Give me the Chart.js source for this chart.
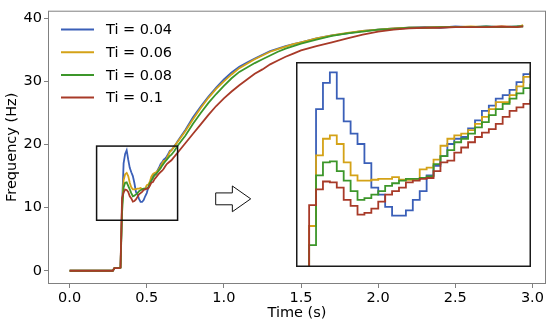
<!DOCTYPE html>
<html><head><meta charset="utf-8">
<script src="https://cdn.jsdelivr.net/npm/chart.js@4.4.1/dist/chart.umd.min.js"></script>
<style>
html,body{margin:0;padding:0;background:#fff;}
#wrap{position:relative;width:550px;height:324px;overflow:hidden;}
#main{position:absolute;left:0;top:0;}
#inset{position:absolute;left:296px;top:62px;}
</style></head><body>
<div id="wrap"><canvas id="main" width="550" height="324"></canvas><canvas id="inset" width="235" height="205"></canvas></div>
<script>
// ---- data ----
const time = [0, 0.28, 0.29, 0.30, 0.31, 0.32, 0.33,
  0.34, 0.35, 0.36, 0.37, 0.38, 0.39, 0.40, 0.41, 0.42, 0.43, 0.44, 0.45, 0.46, 0.47, 0.48, 0.49,
  0.50, 0.51, 0.52, 0.53, 0.54, 0.55, 0.56, 0.57, 0.58, 0.59, 0.60, 0.61, 0.62, 0.63, 0.64, 0.65, 0.66,
  0.67, 0.68, 0.69, 0.70,
  0.75, 0.80, 0.85, 0.90, 0.95, 1.00, 1.05, 1.10, 1.15, 1.20, 1.25, 1.30, 1.35, 1.40, 1.45, 1.50,
  1.6, 1.7, 1.8, 1.9, 2.0, 2.1, 2.2, 2.3, 2.4, 2.5, 2.6, 2.7, 2.8, 2.9, 2.94];

const ti004 = [0, 0, 0.4, 0.4, 0.4, 0.4, 0.5,
  10.3, 17.0, 18.5, 19.1, 17.6, 16.3, 15.6, 15.0, 13.9, 12.5, 12.1, 11.4, 10.9, 10.9, 11.2, 11.8,
  12.3, 13.2, 13.75, 14.3, 15.0, 15.3, 15.4, 15.9, 16.35, 16.9, 17.2, 17.6, 17.8, 18.1, 18.55, 19.0, 19.1,
  19.4, 19.8, 20.1, 20.5,
  22.3, 24.3, 26.0, 27.6, 29.0, 30.3, 31.4, 32.3, 33.0, 33.6, 34.2, 34.8, 35.2, 35.6, 35.9, 36.2,
  36.8, 37.3, 37.6, 38.0, 38.2, 38.4, 38.5, 38.6, 38.5, 38.7, 38.6, 38.7, 38.6, 38.7, 38.8];

const ti006 = [0, 0, 0.4, 0.4, 0.4, 0.4, 0.5,
  10.3, 14.35, 15.3, 15.5, 15.0, 13.95, 13.2, 12.9, 12.9, 12.95, 13.0, 13.0, 13.1, 12.95, 12.95, 13.0,
  13.55, 13.65, 14.1, 14.9, 15.3, 15.5, 15.6, 15.8, 16.15, 16.55, 17.0, 17.4, 17.4, 17.8, 18.3, 18.85, 19.05,
  19.4, 19.7, 20.1, 20.4,
  22.1, 24.0, 25.8, 27.4, 28.8, 30.0, 31.1, 32.1, 32.8, 33.5, 34.1, 34.7, 35.1, 35.5, 35.9, 36.2,
  36.8, 37.3, 37.7, 38.0, 38.2, 38.4, 38.5, 38.5, 38.6, 38.6, 38.7, 38.6, 38.7, 38.6, 38.9];

const ti008 = [0, 0, 0.4, 0.4, 0.4, 0.4, 0.5,
  9.2, 13.2, 13.95, 14.0, 13.45, 12.9, 12.3, 11.8, 11.9, 12.1, 12.3, 12.6, 12.75, 12.9, 13.0, 13.0,
  13.05, 13.15, 13.85, 14.3, 14.65, 15.1, 15.3, 15.6, 15.95, 16.25, 16.65, 17.0, 17.3, 17.6, 17.9, 18.2, 18.4,
  18.7, 19.0, 19.4, 19.8,
  21.4, 23.3, 25.0, 26.6, 28.0, 29.3, 30.5, 31.5, 32.2, 32.9, 33.5, 34.1, 34.7, 35.2, 35.6, 36.0,
  36.6, 37.2, 37.6, 37.9, 38.2, 38.3, 38.5, 38.5, 38.6, 38.6, 38.6, 38.7, 38.6, 38.7, 38.7];

const ti010 = [0, 0, 0.4, 0.4, 0.4, 0.4, 0.5,
  11.5, 12.4, 12.85, 12.8, 12.5, 11.8, 11.45, 10.95, 11.05, 11.3, 11.7, 12.1, 12.3, 12.5, 12.8, 12.9,
  13.0, 13.05, 13.45, 13.95, 14.05, 14.5, 14.8, 15.1, 15.4, 15.65, 15.85, 16.15, 16.55, 16.9, 17.1, 17.3, 17.5,
  17.8, 18.1, 18.4, 18.7,
  20.2, 21.7, 23.2, 24.7, 26.1, 27.3, 28.4, 29.4, 30.3, 31.2, 31.9, 32.7, 33.3, 33.9, 34.4, 34.9,
  35.6, 36.2, 36.8, 37.4, 37.9, 38.2, 38.4, 38.5, 38.5, 38.6, 38.6, 38.6, 38.7, 38.6, 38.7];

const seriesLabels = ['Ti = 0.04', 'Ti = 0.06', 'Ti = 0.08', 'Ti = 0.1'];
const seriesValues = [ti004, ti006, ti008, ti010];
const xTicks = [0.0, 0.5, 1.0, 1.5, 2.0, 2.5, 3.0];
const yTicks = [0, 10, 20, 30, 40];

// ---- styling / annotation geometry (data units) ----
const colors = ['#3a5fb8', '#d4a217', '#3c962a', '#a83a28'];
const zoomBox = {x0: 0.175, x1: 0.70, y0: 8.0, y1: 19.75};
const insetRange = {x0: 0.321, x1: 0.661, y0: 7.95, y1: 19.7};
const arrowShape = {x0: 0.947, xHead: 1.055, x1: 1.174, y: 11.39, tailHalf: 0.94, headHalf: 2.04};

Chart.defaults.font.family = "'DejaVu Sans', sans-serif";
Chart.defaults.color = '#000';

function makeDatasets(stepped, lw) {
  return seriesValues.map((vals, i) => ({
    label: seriesLabels[i],
    data: time.map((t, j) => ({x: t, y: vals[j]})),
    borderColor: colors[i],
    backgroundColor: colors[i],
    borderWidth: lw,
    pointRadius: 0,
    fill: false,
    tension: 0,
    stepped: stepped,
    order: seriesValues.length - 1 - i
  }));
}

const mainDecor = {
  id: 'mainDecor',
  afterDatasetsDraw(chart) {
    const {ctx, chartArea: a, scales: {x, y}} = chart;
    ctx.save();
    // frame
    ctx.strokeStyle = '#808080';
    ctx.lineWidth = 1;
    ctx.strokeRect(a.left + 0.5, a.top + 0.5, a.right - a.left - 1, a.bottom - a.top - 1);
    // zoom rectangle
    ctx.strokeStyle = '#111';
    ctx.lineWidth = 1.5;
    const rx0 = x.getPixelForValue(zoomBox.x0), rx1 = x.getPixelForValue(zoomBox.x1);
    const ry0 = y.getPixelForValue(zoomBox.y0), ry1 = y.getPixelForValue(zoomBox.y1);
    ctx.strokeRect(rx0, ry1, rx1 - rx0, ry0 - ry1);
    // arrow
    const ax0 = x.getPixelForValue(arrowShape.x0), axh = x.getPixelForValue(arrowShape.xHead), ax1 = x.getPixelForValue(arrowShape.x1);
    const ay = y.getPixelForValue(arrowShape.y);
    const th = y.getPixelForValue(arrowShape.y - arrowShape.tailHalf) - ay;
    const hh = y.getPixelForValue(arrowShape.y - arrowShape.headHalf) - ay;
    ctx.beginPath();
    ctx.moveTo(ax0, ay - th);
    ctx.lineTo(axh, ay - th);
    ctx.lineTo(axh, ay - hh);
    ctx.lineTo(ax1, ay);
    ctx.lineTo(axh, ay + hh);
    ctx.lineTo(axh, ay + th);
    ctx.lineTo(ax0, ay + th);
    ctx.closePath();
    ctx.fillStyle = '#fff';
    ctx.fill();
    ctx.lineWidth = 1;
    ctx.strokeStyle = '#111';
    ctx.stroke();
    // legend
    ctx.font = "14.5px 'DejaVu Sans'";
    ctx.textBaseline = 'middle';
    ctx.textAlign = 'left';
    chart.data.datasets.forEach((ds, i) => {
      const ly = 29.5 + i * 22.7;
      ctx.strokeStyle = ds.borderColor;
      ctx.lineWidth = 2;
      ctx.beginPath();
      ctx.moveTo(61, ly);
      ctx.lineTo(94, ly);
      ctx.stroke();
      ctx.fillStyle = '#000';
      ctx.fillText(ds.label, 106, ly + 1);
    });
    ctx.restore();
  }
};

new Chart(document.getElementById('main'), {
  type: 'line',
  data: {datasets: makeDatasets(false, 1.8)},
  options: {
    responsive: false, animation: false, devicePixelRatio: 1,
    layout: {padding: {top: 8, right: 4, left: 0, bottom: 0}},
    plugins: {legend: {display: false}, tooltip: {enabled: false}},
    scales: {
      x: {
        type: 'linear', min: -0.14, max: 3.088,
        afterBuildTicks: s => { s.ticks = xTicks.map(v => ({value: v})); },
        afterFit: s => { s.height = 40; },
        ticks: {callback: v => Number(v).toFixed(1), font: {size: 14.5}, padding: 2, maxRotation: 0, autoSkip: false, color: '#000'},
        grid: {display: true, drawOnChartArea: false, drawTicks: true, tickLength: 4, tickColor: '#808080'},
        border: {display: false},
        title: {display: true, text: 'Time (s)', font: {size: 14.5}, color: '#000', padding: {top: 0, bottom: 2}}
      },
      y: {
        type: 'linear', min: -2.1, max: 41.2,
        afterBuildTicks: s => { s.ticks = yTicks.map(v => ({value: v})); },
        afterFit: s => { s.width = 48; },
        ticks: {callback: v => String(v), font: {size: 14.5}, padding: 2, autoSkip: false, color: '#000'},
        grid: {display: true, drawOnChartArea: false, drawTicks: true, tickLength: 4, tickColor: '#808080'},
        border: {display: false},
        title: {display: true, text: 'Frequency (Hz)', font: {size: 14.5}, color: '#000', padding: {top: 4, bottom: 0}}
      }
    }
  },
  plugins: [mainDecor]
});

const insetDecor = {
  id: 'insetDecor',
  beforeDraw(chart) {
    const {ctx, width, height} = chart;
    ctx.save(); ctx.fillStyle = '#fff'; ctx.fillRect(0, 0, width, height); ctx.restore();
  },
  afterDraw(chart) {
    const {ctx, width, height} = chart;
    ctx.save();
    ctx.strokeStyle = '#1a1a1a';
    ctx.lineWidth = 1.5;
    ctx.strokeRect(0.75, 0.75, width - 1.5, height - 1.5);
    ctx.restore();
  }
};

new Chart(document.getElementById('inset'), {
  type: 'line',
  data: {datasets: makeDatasets(true, 1.8)},
  options: {
    responsive: false, animation: false, devicePixelRatio: 1,
    layout: {padding: 0},
    plugins: {legend: {display: false}, tooltip: {enabled: false}},
    scales: {
      x: {type: 'linear', display: false, min: insetRange.x0, max: insetRange.x1},
      y: {type: 'linear', display: false, min: insetRange.y0, max: insetRange.y1}
    }
  },
  plugins: [insetDecor]
});
</script>
</body></html>
